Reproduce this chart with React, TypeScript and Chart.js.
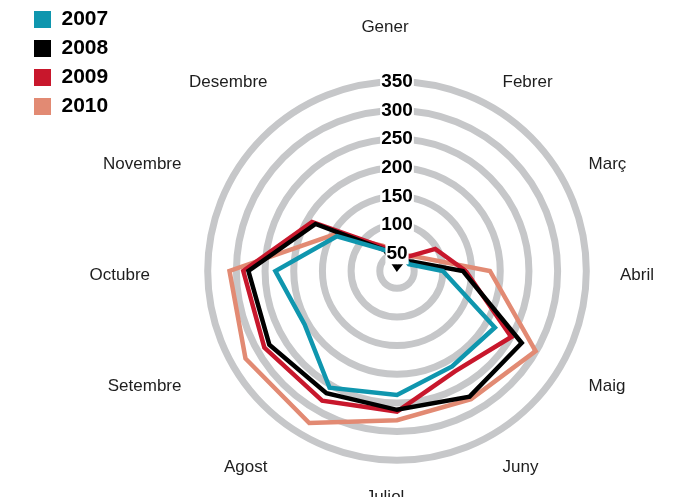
import React, { useEffect, useRef } from "react";
import { Chart, registerables } from "chart.js";

Chart.register(...registerables);

const months = ["Gener", "Febrer", "Març", "Abril", "Maig", "Juny", "Juliol", "Agost", "Setembre", "Octubre", "Novembre", "Desembre"];
const seriesNames = ["2007", "2008", "2009", "2010"];
const seriesColors = ["#0f96ae", "#000000", "#c8172c", "#e28a73"];
const values2007 = [48, 45, 44, 100, 217, 212, 236, 255, 206, 232, 141, 62];
const values2008 = [25, 40, 52, 135, 271, 273, 262, 266, 277, 279, 184, 62];
const values2009 = [50, 47, 97, 140, 250, 222, 265, 281, 287, 288, 191, 68];
const values2010 = [55, 52, 67, 182, 299, 278, 280, 326, 325, 312, 147, 71];
const tickValues = [50, 100, 150, 200, 250, 300, 350];

const allValues = [values2007, values2008, values2009, values2010];

const FONT = '"Liberation Sans", Arial, Helvetica, sans-serif';

// month labels drawn around the rings (label centre slightly offset from ring centre, as in the original)
const LABEL_SHIFT_X = -12;
const LABEL_SHIFT_Y = 4;
const LABEL_RX = 235;
const LABEL_RY = 222;
const LABEL_TOP_EXTRA = 17;

const monthLabelPlugin = {
  id: "monthLabels",
  afterDraw(chart: any) {
    const scale = chart.scales.r;
    const ctx = chart.ctx;
    ctx.save();
    ctx.font = `17px ${FONT}`;
    ctx.fillStyle = "#1e1e1e";
    const cx = scale.xCenter + LABEL_SHIFT_X;
    const cy = scale.yCenter + LABEL_SHIFT_Y;
    (chart.data.labels as string[]).forEach((m, i) => {
      const a = scale.getIndexAngle(i);
      const deg = Math.round((a * 180) / Math.PI) % 360;
      const x = cx + LABEL_RX * Math.sin(a);
      const y = cy - LABEL_RY * Math.cos(a) - (deg === 0 ? LABEL_TOP_EXTRA : 0);
      ctx.textAlign = deg === 0 || deg === 180 ? "center" : deg < 180 ? "left" : "right";
      ctx.textBaseline = deg === 0 ? "bottom" : "middle";
      ctx.fillText(m, x, y);
    });
    ctx.restore();
  },
};

export default function App() {
  const ref = useRef<HTMLCanvasElement | null>(null);

  useEffect(() => {
    document.body.style.margin = "0";
    if (!ref.current) return;
    const chart = new Chart(ref.current, {
      type: "radar",
      data: {
        labels: months,
        datasets: seriesNames.map((name, i) => ({
          label: name,
          data: allValues[i],
          borderColor: seriesColors[i],
          backgroundColor: seriesColors[i],
          borderWidth: 4.5,
          pointRadius: 0,
          pointHoverRadius: 0,
          fill: false,
          tension: 0,
        })),
      },
      options: {
        responsive: false,
        animation: false,
        layout: { padding: { left: 26, top: 1, right: 14, bottom: 0 } },
        plugins: {
          tooltip: { enabled: false },
          legend: {
            position: "left",
            align: "start",
            labels: {
              boxWidth: 17,
              boxHeight: 17,
              padding: 8,
              color: "#000",
              font: { family: FONT, size: 21, weight: "bold" },
              generateLabels: (chart: any) =>
                chart.data.datasets.map((ds: any, i: number) => ({
                  text: ds.label,
                  fillStyle: ds.borderColor,
                  strokeStyle: ds.borderColor,
                  lineWidth: 0,
                  hidden: false,
                  datasetIndex: i,
                  fontColor: "#000",
                })),
            },
          },
        },
        scales: {
          r: {
            min: 20,
            max: 471.5,
            angleLines: { display: false },
            pointLabels: { display: false },
            grid: { circular: true, color: "#c6c7c9", lineWidth: 7 },
            afterBuildTicks: (axis: any) => {
              axis.ticks = [axis.min, ...tickValues].map((v) => ({ value: v }));
            },
            ticks: {
              z: 1,
              color: "#000",
              font: { family: FONT, size: 19, weight: "bold" },
              showLabelBackdrop: true,
              backdropColor: "#ffffff",
              backdropPadding: 1,
            },
          },
        },
      } as any,
      plugins: [monthLabelPlugin],
    });
    return () => chart.destroy();
  }, []);

  return (
    <div style={{ width: 690, height: 497, overflow: "hidden", background: "#fff" }}>
      <canvas ref={ref} width={690} height={541} style={{ display: "block" }} />
    </div>
  );
}
